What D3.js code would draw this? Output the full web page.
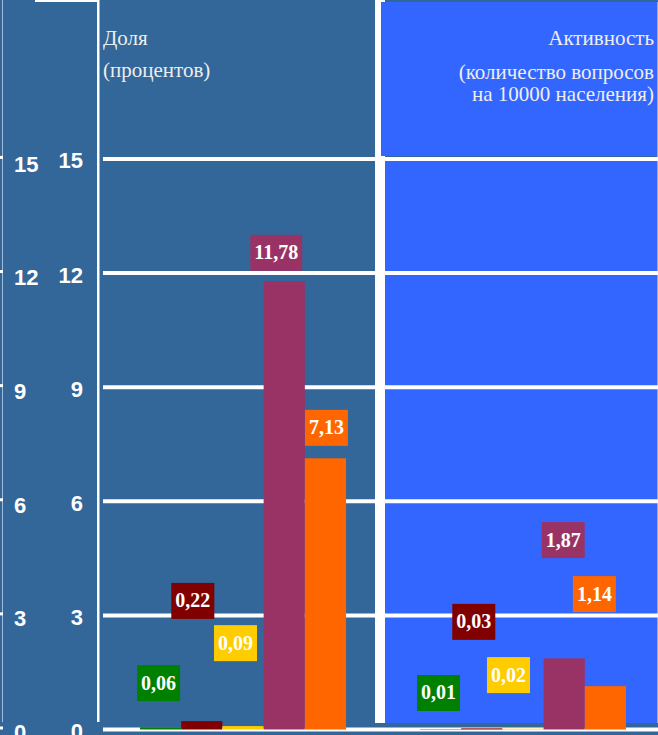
<!DOCTYPE html>
<html><head><meta charset="utf-8">
<script src="https://cdn.jsdelivr.net/npm/d3@7"></script>
<style>html,body{margin:0;padding:0;background:#336699;overflow:hidden}svg{display:block}</style>
</head><body>
<svg id="chart" width="658" height="735"></svg>
<script>
// ---- data ----
const groups = ["Доля", "Активность"];
const seriesNames = ["s1", "s2", "s3", "s4", "s5"];
const shareValues = [0.06, 0.22, 0.09, 11.78, 7.13];
const activityValues = [0.01, 0.03, 0.02, 1.87, 1.14];
const tickValues = [0, 3, 6, 9, 12, 15];
const seriesColors = ["#008000", "#800000", "#FFCC00", "#993366", "#FF6600"];
const leftTitle = ["Доля", "(процентов)"];
const rightTitle = ["Активность", "(количество вопросов", "на 10000 населения)"];

// ---- layout (manual label placement, in value units / px offsets) ----
const labelLevel = [[1.22, 3.38, 2.27, 12.53, 7.93], [0.96, 2.83, 1.43, 4.98, 3.56]];
const labelShift = [[-2, -9, -7.5, -8, 1], [-2, -8, -14.5, -1, -11]];

const W = 658, H = 735;
const svg = d3.select("#chart");
const fmt = d3.formatLocale({decimal: ",", thousands: " ", grouping: [3], currency: ["", ""]}).format(".2f");

const y = d3.scaleLinear().domain([0, 15]).range([729.5, 158.9]);
const yLeft = d3.scaleLinear().domain([0, 15]).range([732, 163.5]);
const x0 = d3.scaleBand().domain(groups).range([140, 626]).paddingInner(0.264).paddingOuter(0);
const x1 = d3.scaleBand().domain(seriesNames).range([0, x0.bandwidth()]);

const data = groups.map((g, gi) => ({
  group: g,
  values: (gi === 0 ? shareValues : activityValues).map((v, i) => ({
    series: seriesNames[i], value: v, color: seriesColors[i],
    level: labelLevel[gi][i], shift: labelShift[gi][i]
  }))
}));

// background
svg.append("rect").attr("width", W).attr("height", H).attr("fill", "#336699");

// left edge decorations
svg.append("rect").attr("x", 35).attr("y", 0).attr("width", 64).attr("height", 2).attr("fill", "#ffffff");
svg.append("rect").attr("x", 2).attr("y", 0).attr("width", 1).attr("height", 722).attr("fill", "#9fbbd8");
svg.selectAll("rect.ltick").data(tickValues).join("rect").attr("class", "ltick")
  .attr("x", 0).attr("y", d => y(d) - 3).attr("width", 3).attr("height", 3).attr("fill", "#ffffff");

// white vertical lines
svg.append("rect").attr("x", 97).attr("y", 0).attr("width", 2.5).attr("height", 722).attr("fill", "#ffffff");
svg.append("rect").attr("x", 375).attr("y", 0).attr("width", 10).attr("height", 723).attr("fill", "#ffffff");

// right panels
svg.append("rect").attr("x", 381).attr("y", 2).attr("width", 276).attr("height", 154).attr("fill", "#3366FF");
svg.append("rect").attr("x", 385).attr("y", 161).attr("width", 272).attr("height", 562).attr("fill", "#3366FF");
svg.append("rect").attr("x", 657).attr("y", 2).attr("width", 1).attr("height", 721).attr("fill", "#90a8ff");

// gridlines
svg.append("g").selectAll("line").data(tickValues).join("line")
  .attr("x1", 103).attr("x2", W).attr("y1", d => y(d)).attr("y2", d => y(d))
  .attr("stroke", "#ffffff").attr("stroke-width", 4);

// bars
const gGroups = svg.append("g").selectAll("g").data(data).join("g")
  .attr("transform", d => `translate(${x0(d.group)},0)`);
gGroups.selectAll("rect").data(d => d.values).join("rect")
  .attr("x", d => x1(d.series)).attr("width", x1.bandwidth())
  .attr("y", d => y(d.value)).attr("height", d => y(0) - y(d.value))
  .attr("fill", d => d.color);

// value labels
const lab = gGroups.selectAll("g.lab").data(d => d.values).join("g").attr("class", "lab")
  .attr("transform", d => `translate(${x1(d.series) + x1.bandwidth() / 2 + d.shift},${y(d.level)})`);
lab.append("rect").attr("fill", d => d.color);
lab.append("text").text(d => fmt(d.value))
  .attr("text-anchor", "middle").attr("y", 6.5)
  .attr("font-family", "'Liberation Serif','Times New Roman',serif")
  .attr("font-weight", "bold").attr("font-size", 20).attr("fill", "#ffffff");
lab.each(function() {
  const g = d3.select(this);
  const w = g.select("text").node().getComputedTextLength() + 8;
  g.select("rect").attr("x", -w / 2).attr("y", -18).attr("width", w).attr("height", 36);
});

// tick labels (two columns)
const tickFont = "'Liberation Sans',Arial,sans-serif";
svg.append("g").selectAll("text").data(tickValues).join("text")
  .attr("x", 14).attr("y", d => yLeft(d) + 8).text(d => d)
  .attr("font-family", tickFont).attr("font-weight", "bold").attr("font-size", 22).attr("fill", "#ffffff");
svg.append("g").selectAll("text").data(tickValues).join("text")
  .attr("x", 83).attr("y", d => y(d) + 9.5).attr("text-anchor", "end").text(d => d)
  .attr("font-family", tickFont).attr("font-weight", "bold").attr("font-size", 22).attr("fill", "#ffffff");

// titles
const titleFont = "'Liberation Serif','Times New Roman',serif";
svg.append("g").selectAll("text").data(leftTitle).join("text")
  .attr("x", 103).attr("y", (d, i) => [45, 77][i]).text(d => d)
  .attr("font-family", titleFont).attr("font-size", 21).attr("fill", "#eeeeee");
svg.append("g").selectAll("text").data(rightTitle).join("text")
  .attr("x", 654).attr("y", (d, i) => [45, 79, 101][i]).attr("text-anchor", "end").text(d => d)
  .attr("font-family", titleFont).attr("font-size", 21).attr("fill", "#eeeeee");
</script>
</body></html>
